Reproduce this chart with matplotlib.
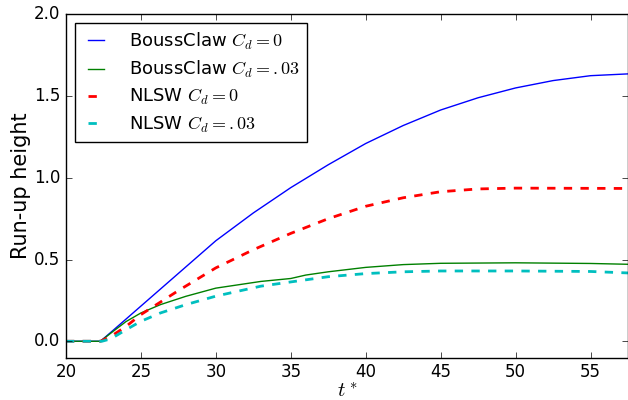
import matplotlib
matplotlib.use("Agg")
import matplotlib.pyplot as plt

plt.style.use("classic")

t_blue = [20, 22.3, 23, 24, 25, 26, 27.5, 30, 32.5, 35, 37.5, 40, 42.5, 45, 47.5, 50, 52.5, 55, 57.5]
bouss_cd0 = [0, 0, 0.055, 0.135, 0.215, 0.295, 0.415, 0.615, 0.785, 0.94, 1.08, 1.21, 1.32, 1.415, 1.49, 1.55, 1.595, 1.625, 1.636]

t_green = [20, 22.3, 23, 24, 25, 26.3, 28, 30, 33, 35, 36, 37.5, 40, 42.5, 45, 50, 55, 57.5]
bouss_cd03 = [0, 0, 0.05, 0.12, 0.173, 0.224, 0.275, 0.325, 0.366, 0.384, 0.405, 0.425, 0.452, 0.469, 0.477, 0.48, 0.476, 0.471]

t_red = [20, 22.3, 23, 24, 25, 27.5, 30, 32.5, 35, 37.5, 40, 42.5, 45, 47.5, 50, 57.5]
nlsw_cd0 = [0, 0, 0.03, 0.09, 0.163, 0.31, 0.449, 0.56, 0.66, 0.75, 0.826, 0.878, 0.915, 0.932, 0.937, 0.935]

t_cyan = [20, 22.4, 23, 24, 25, 26.3, 28, 30, 33, 35, 37.5, 40, 42.5, 45, 50, 55, 57.5]
nlsw_cd03 = [0, 0, 0.015, 0.07, 0.122, 0.173, 0.224, 0.276, 0.337, 0.363, 0.395, 0.414, 0.425, 0.43, 0.43, 0.427, 0.418]

fig = plt.figure(figsize=(6.28, 4.0), dpi=100, facecolor="white")
ax = fig.add_axes([0.105, 0.106, 0.895, 0.858])

ax.plot(t_blue, bouss_cd0, color="b", lw=1, label=r"BoussClaw $C_d=0$")
ax.plot(t_green, bouss_cd03, color="g", lw=1, label=r"BoussClaw $C_d=.03$")
ax.plot(t_red, nlsw_cd0, color="r", lw=2, ls="--", label=r"NLSW $C_d=0$")
ax.plot(t_cyan, nlsw_cd03, color="c", lw=2, ls="--", label=r"NLSW $C_d=.03$")

ax.set_xlim(20, 57.5)
ax.set_ylim(-0.1, 2.0)
ax.set_xticks([20, 25, 30, 35, 40, 45, 50, 55])
ax.set_yticks([0.0, 0.5, 1.0, 1.5, 2.0])
ax.tick_params(labelsize=12)
ax.set_xlabel(r"$t^*$", fontsize=15, labelpad=0)
ax.set_ylabel("Run-up height", fontsize=15, labelpad=2.5)
ax.legend(loc="upper left", fontsize=13, borderaxespad=0.5,
          handlelength=1.5, handletextpad=1.1, labelspacing=0.4)

fig.savefig("out.png", dpi=100, facecolor="white")
